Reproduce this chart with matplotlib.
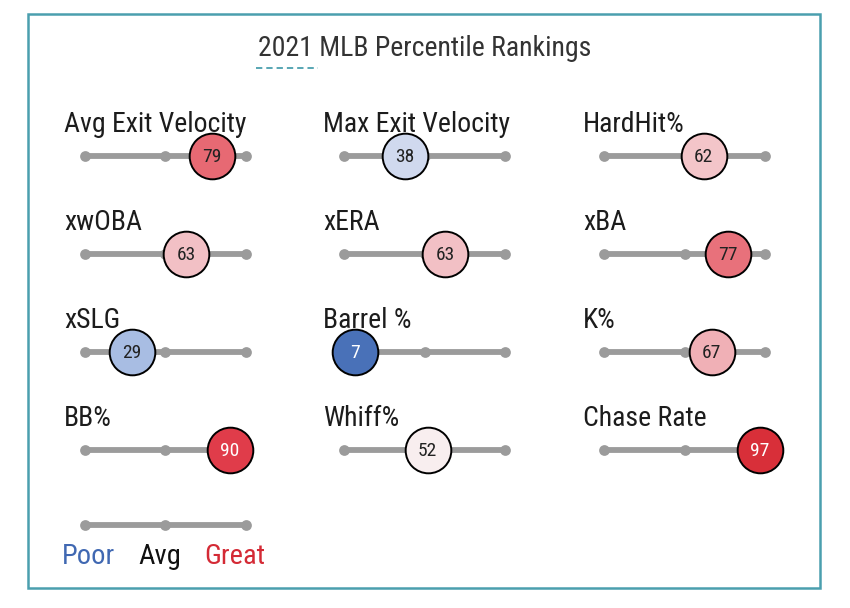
import matplotlib
matplotlib.use("Agg")
import matplotlib.pyplot as plt
from matplotlib.colors import LinearSegmentedColormap
from matplotlib.patches import Rectangle
from matplotlib.lines import Line2D

plt.rcParams['font.family'] = ['Roboto Condensed', 'Roboto', 'DejaVu Sans']

# ---- data ----
metrics = ["Avg Exit Velocity", "Max Exit Velocity", "HardHit%",
           "xwOBA", "xERA", "xBA",
           "xSLG", "Barrel %", "K%",
           "BB%", "Whiff%", "Chase Rate"]
percentiles = [79, 38, 62,
               63, 63, 77,
               29, 7, 67,
               90, 52, 97]
legend_labels = ["Poor", "Avg", "Great"]
title = "2021 MLB Percentile Rankings"

# ---- style ----
W, H = 850, 608
fig = plt.figure(figsize=(W / 100, H / 100), dpi=100)
fig.patch.set_facecolor("white")

cmap = LinearSegmentedColormap.from_list("pct", [
    (0.00, "#3d66b2"), (0.07, "#4a72b8"), (0.29, "#a8bde3"),
    (0.38, "#d0d9ee"), (0.52, "#f8eff0"), (0.62, "#f3c5c9"),
    (0.67, "#f0b0b6"), (0.77, "#e8727c"), (0.90, "#e03c4a"),
    (1.00, "#d52a33")])

TEAL = "#4a9fae"
GRAY = "#9b9b9b"
TXT = "#1c1c1c"
col_x = [85, 344, 604]
row_y = [156, 254, 352, 450]
track_px = 161.0
ppu = track_px / 100.0  # pixels per percentile unit
padL, padR, padT, padB = 40, 40, 50, 40

def panel_axes(x0, y):
    x1 = x0 + track_px
    ax = fig.add_axes([(x0 - padL) / W, 1 - (y + padB) / H,
                       (x1 + padR - x0 + padL) / W, (padT + padB) / H])
    ax.set_xlim(-padL / ppu, 100 + padR / ppu)
    ax.set_ylim(-padB, padT)
    ax.axis("off")
    return ax

def draw_track(ax):
    ax.plot([0, 100], [0, 0], color=GRAY, lw=4.2, solid_capstyle="round", zorder=1)
    ax.scatter([0, 50, 100], [0, 0, 0], s=60, color=GRAY, zorder=2, linewidths=0)

for i, (name, v) in enumerate(zip(metrics, percentiles)):
    r, c = divmod(i, 3)
    ax = panel_axes(col_x[c], row_y[r])
    draw_track(ax)
    ax.text(-21 / ppu, 32, name, fontsize=20, color=TXT, ha="left", va="center")
    fc = cmap(v / 100)
    ax.scatter([v], [0], s=1080, color=fc, edgecolors="black",
               linewidths=1.4, zorder=3)
    tc = "white" if (v <= 15 or v >= 85) else "#222222"
    ax.text(v, -0.5, str(v), fontsize=14, color=tc, ha="center", va="center", zorder=4)

# legend track
lax = panel_axes(col_x[0], 525)
draw_track(lax)
leg_colors = ["#4068b2", "#111111", "#d42a35"]
leg_px = [89, 160, 235]
for lab, colr, px in zip(legend_labels, leg_colors, leg_px):
    lax.text((px - col_x[0]) / ppu, -31, lab, fontsize=20.5, color=colr,
             ha="center", va="center")

# border and title
fig.add_artist(Rectangle((28 / W, 1 - 588 / H), (820 - 28) / W, (588 - 14) / H,
                         transform=fig.transFigure, fill=False,
                         edgecolor=TEAL, lw=1.8))
fig.text(425 / W, 1 - 48.5 / H, title, fontsize=20, color="#333333",
         ha="center", va="center")
fig.add_artist(Line2D([256 / W, 318 / W], [1 - 68 / H, 1 - 68 / H],
                      transform=fig.transFigure, color=TEAL, lw=1.3,
                      linestyle=(0, (3.5, 2.2))))

fig.savefig("out.png", dpi=100, facecolor="white")
